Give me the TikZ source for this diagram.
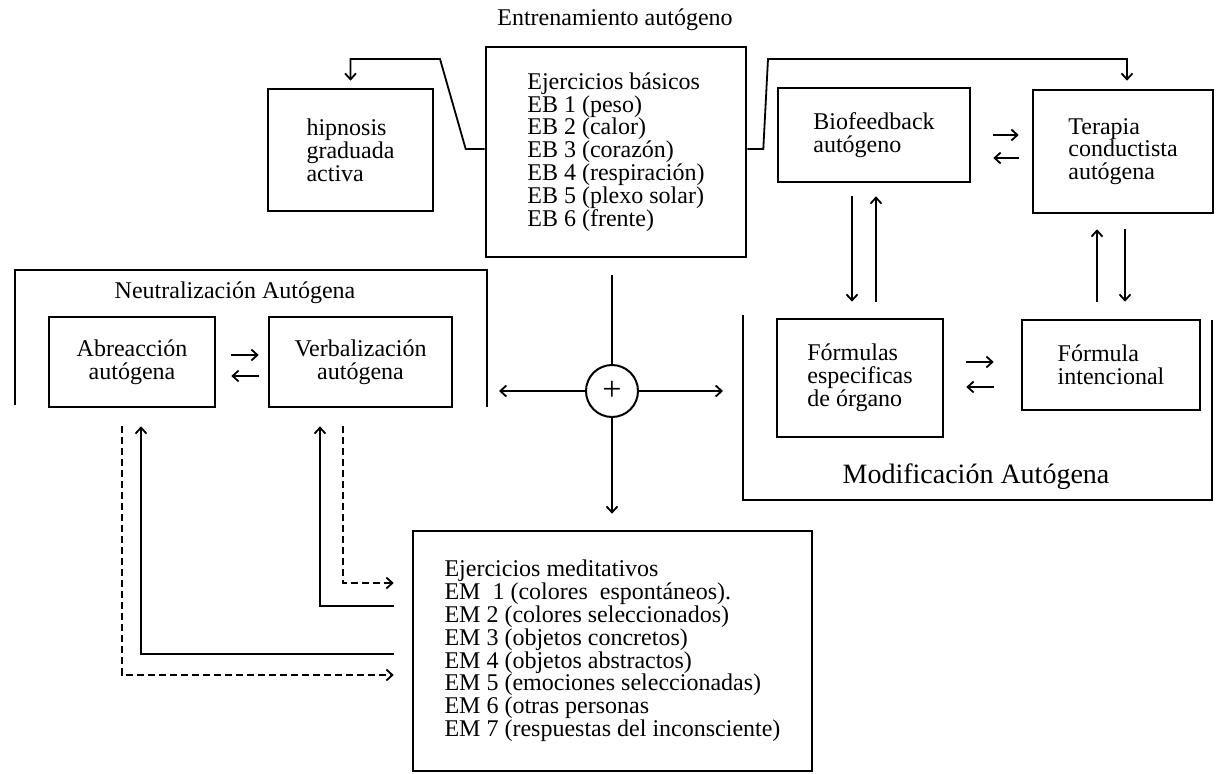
\documentclass[tikz,border=0pt]{standalone}
\usepackage{fontspec}
\setmainfont{Liberation Serif}
\usetikzlibrary{arrows.meta,calc}
\begin{document}
\begin{tikzpicture}[x=1pt,y=-1pt,
  every node/.style={font=\fontsize{24}{22.8}\selectfont},
  box/.style={draw, line width=2.6pt, align=left, inner sep=0pt},
  conn/.style={line width=1.8pt},
  arr/.style={conn, -{Straight Barb[length=6pt,width=11pt,line width=1.8pt]}},
  dsh/.style={dash pattern=on 7pt off 4pt},
  frame/.style={line width=2.6pt}
]
\useasboundingbox (0,0) rectangle (1216,774);

% titles
\node (title) at (615,20) {Entrenamiento autógeno};

% boxes
\node[box, minimum width=260pt, minimum height=210pt] (eb) at (616,152)
  {Ejercicios básicos\\EB 1 (peso)\\EB 2 (calor)\\EB 3 (corazón)\\EB 4 (respiración)\\EB 5 (plexo solar)\\EB 6 (frente)};
\node[box, minimum width=165pt, minimum height=122pt] (hip) at (350.5,150) {hipnosis\\graduada\\activa};
\node[box, minimum width=192pt, minimum height=94pt] (bio) at (874,135) {Biofeedback\\autógeno};
\node[box, minimum width=180pt, minimum height=123pt] (ter) at (1123,151.5) {Terapia\\conductista\\autógena};
\node[box, minimum width=166pt, minimum height=118pt] (form) at (860,378) {Fórmulas\\especificas\\de órgano};
\node[box, minimum width=178pt, minimum height=90pt] (inten) at (1111,365) {Fórmula\\intencional};
\node[box, align=center, minimum width=166pt, minimum height=90pt] (abre) at (132,362) {Abreacción\\autógena};
\node[box, align=center, minimum width=183pt, minimum height=90pt] (verb) at (360.5,362) {Verbalización\\autógena};
\node[box, minimum width=399pt, minimum height=240pt] (em) at (612.5,651)
  {Ejercicios meditativos\\EM\ \ 1 (colores\ \ espontáneos).\\EM 2 (colores seleccionados)\\EM 3 (objetos concretos)\\EM 4 (objetos abstractos)\\EM 5 (emociones seleccionadas)\\EM 6 (otras personas\\EM 7 (respuestas del inconsciente)};
\node[circle, draw, line width=2pt, minimum size=52pt, inner sep=0pt, font=\fontsize{34}{34}\selectfont] (plus) at (612,391) {+};

% frames
\draw[frame] (15,405) -- (15,270) -- (487,270) -- (487,407);
\node (neut) at (235,293) {Neutralización Autógena};
\draw[frame] (743,315) -- (743,500) -- (1212,500) -- (1212,320);
\node[font=\fontsize{28}{28}\selectfont] (modi) at (976,477) {Modificación Autógena};

% top connectors
\draw[arr, shorten >=7pt] ($(eb.west)+(0,-3)$) -- ++(-19,0) -- (440,59) -| (hip.north);
\draw[arr, shorten >=8pt] ($(eb.east)+(0,-3)$) -- ++(16,0) -- (768,59) -| ($(ter.north)+(4,0)$);

% bio <-> ter
\draw[arr, shorten <=22pt, shorten >=13pt] (bio.east) -- (bio.east -| ter.west);
\draw[arr, shorten <=13pt, shorten >=22pt] ($(bio.east -| ter.west)+(0,23)$) -- ($(bio.east)+(0,23)$);

% bio <-> form
\coordinate (bd) at ($(bio.south)+(-22,0)$);
\draw[arr, shorten <=13pt, shorten >=16pt] (bd) -- (bd |- form.north);
\coordinate (bu) at ($(bio.south)+(2,0)$);
\draw[arr, shorten <=16pt, shorten >=13pt] (bu |- form.north) -- (bu);

% ter <-> inten
\coordinate (tu) at ($(ter.south)+(-26,0)$);
\draw[arr, shorten <=17pt, shorten >=15pt] (tu |- inten.north) -- (tu);
\coordinate (td) at ($(ter.south)+(2,0)$);
\draw[arr, shorten <=15pt, shorten >=17pt] (td) -- (td |- inten.north);

% form <-> inten
\coordinate (fr) at ($(form.east)+(0,-16)$);
\draw[arr, shorten <=22pt, shorten >=27pt] (fr) -- (fr -| inten.west);
\coordinate (fl) at ($(form.east)+(0,9)$);
\draw[arr, shorten <=27pt, shorten >=22pt] (fl -| inten.west) -- (fl);

% abre <-> verb
\coordinate (ar) at ($(abre.east)+(0,-7)$);
\draw[arr, shorten <=15pt, shorten >=9pt] (ar) -- (ar -| verb.west);
\coordinate (al) at ($(abre.east)+(0,14)$);
\draw[arr, shorten <=9pt, shorten >=15pt] (al -| verb.west) -- (al);

% plus connectors
\coordinate (neutR) at (487,391);
\coordinate (modL) at (743,391);
\draw[conn, shorten >=17pt] (plus.north) -- (plus.north |- eb.south);
\draw[arr, shorten >=16pt] (plus.south) -- (plus.south |- em.north);
\draw[arr, shorten >=20pt] (plus.east) -- (modL);
\draw[arr, shorten >=12pt] (plus.west) -- (neutR);

% bottom-left connectors
\coordinate (vd) at ($(verb.south)+(-17.5,0)$);
\coordinate (ed1) at ($(em.west)+(0,-68)$);
\draw[arr, dsh, shorten <=18pt, shorten >=18pt] (vd) |- (ed1);
\coordinate (vs) at ($(verb.south)+(-40.5,0)$);
\coordinate (es1) at ($(em.west)+(0,-45)$);
\draw[arr, shorten <=18pt, shorten >=18pt] (es1) -| (vs);
\coordinate (as) at ($(abre.south)+(9,0)$);
\coordinate (es2) at ($(em.west)+(0,3)$);
\draw[arr, shorten <=18pt, shorten >=18pt] (es2) -| (as);
\coordinate (ad) at ($(abre.south)+(-10,0)$);
\coordinate (ed2) at ($(em.west)+(0,24)$);
\draw[arr, dsh, shorten <=18pt, shorten >=18pt] (ad) |- (ed2);
\end{tikzpicture}
\end{document}
